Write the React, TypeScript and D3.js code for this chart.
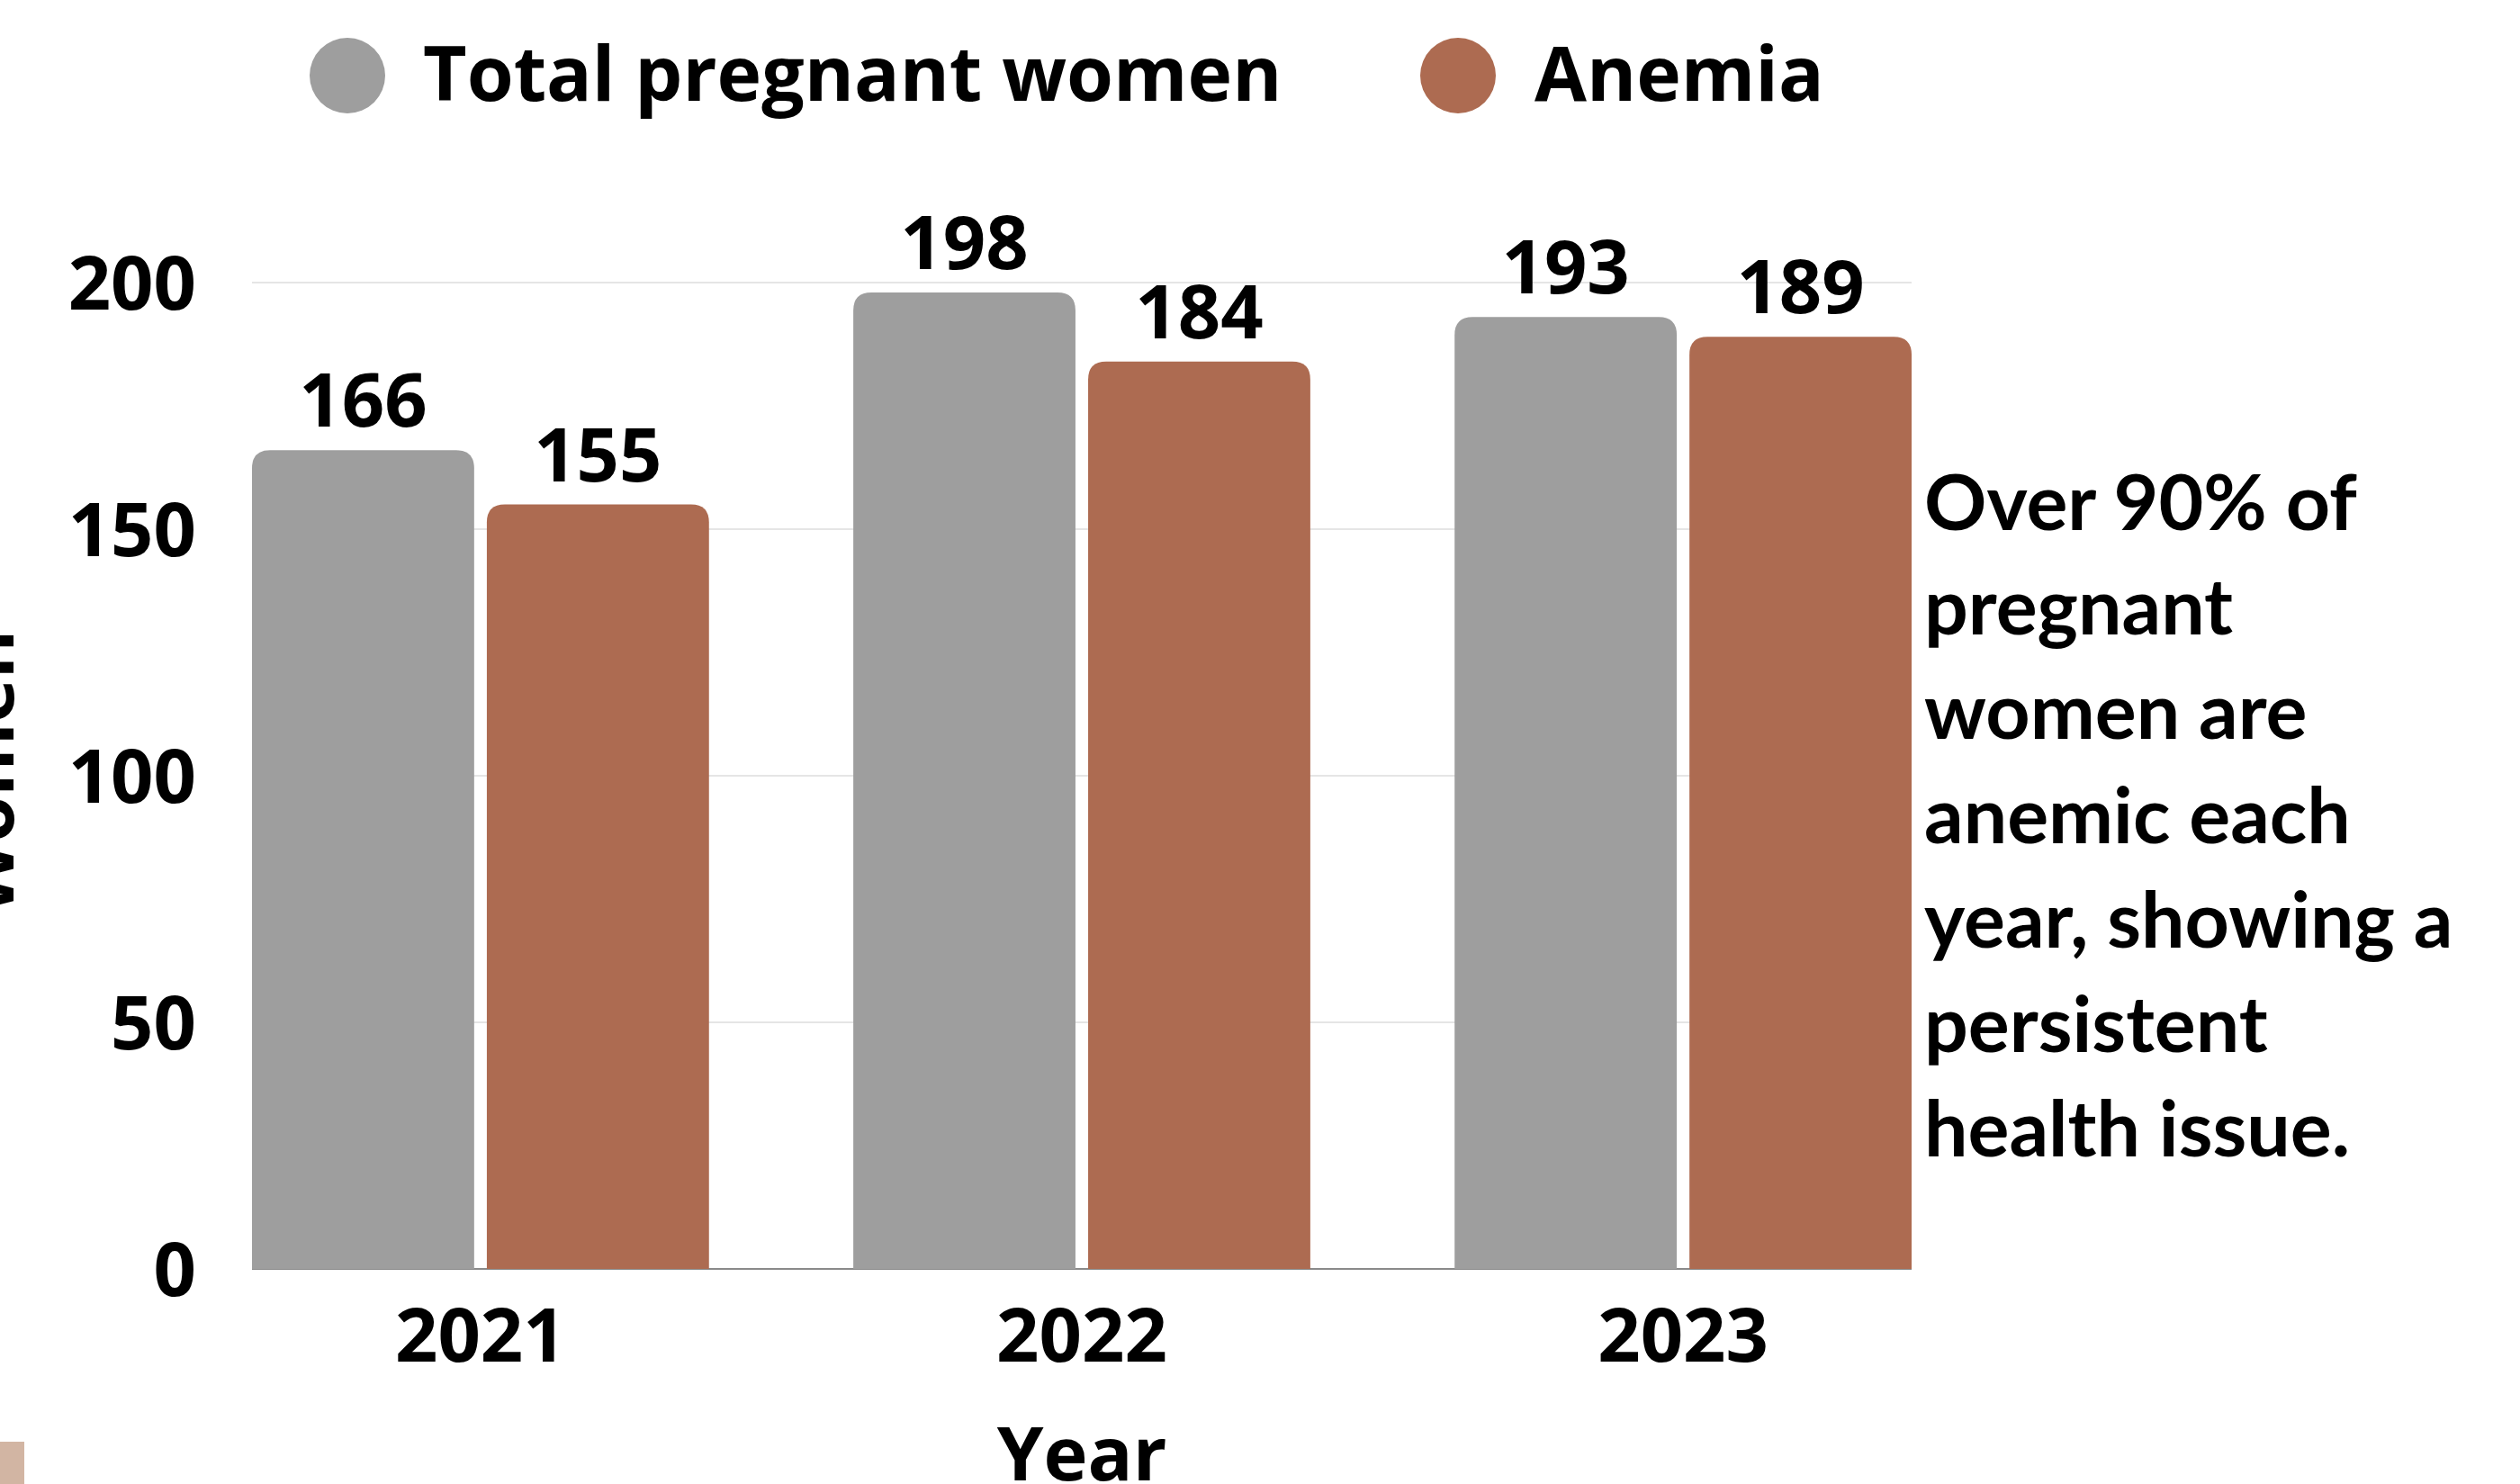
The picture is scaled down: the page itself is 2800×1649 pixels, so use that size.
import React from 'react';
import * as d3 from 'd3';

// data
const years = ['2021', '2022', '2023'];
const totalPregnant = [166, 198, 193];
const anemia = [155, 184, 189];
const seriesKeys = ['total', 'anemia'];
const seriesNames = ['Total pregnant women', 'Anemia'];
const yTicks = [0, 50, 100, 150, 200];
const noteLines = [
  'Over 90% of',
  'pregnant',
  'women are',
  'anemic each',
  'year, showing a',
  'persistent',
  'health issue.',
];

const W = 2800;
const H = 1649;
const colors = ['#9e9e9e', '#ad6b51'];
const font = "'Open Sans', 'Noto Sans', sans-serif";

// bar with rounded top corners only
function topRounded(x: number, y: number, w: number, h: number, r: number) {
  const rr = Math.min(r, w / 2, h);
  return `M${x},${y + h}V${y + rr}Q${x},${y} ${x + rr},${y}H${x + w - rr}Q${x + w},${y} ${x + w},${y + rr}V${y + h}Z`;
}

export default function App() {
  const margin = { left: 280, right: W - 2124, top: 314, bottom: H - 1410 };

  const x0 = d3.scaleBand<string>()
    .domain(years)
    .range([margin.left, W - margin.right])
    .paddingInner(0.24)
    .paddingOuter(0);

  const x1 = d3.scaleBand<string>()
    .domain(seriesKeys)
    .range([0, x0.bandwidth()])
    .paddingInner(0.054);

  const y = d3.scaleLinear().domain([0, 200]).range([H - margin.bottom, margin.top]);

  const values = [totalPregnant, anemia];
  const xl = margin.left;
  const xr = W - margin.right;

  return (
    <div style={{ position: 'absolute', left: 0, top: 0 }}>
      <svg width={W} height={H} style={{ display: 'block', background: '#fff' }}>
        {/* legend */}
        <g fontFamily={font} fontWeight={700} fontSize={84}>
          <circle cx={386} cy={84} r={42} fill={colors[0]} />
          <text x={470} y={112} fill="#000">{seriesNames[0]}</text>
          <circle cx={1620} cy={84} r={42} fill={colors[1]} />
          <text x={1705} y={112} fill="#000">{seriesNames[1]}</text>
        </g>

        {/* grid */}
        {yTicks.filter(t => t > 0).map(t => (
          <line key={t} x1={xl} x2={xr} y1={y(t)} y2={y(t)} stroke="#dcdcdc" strokeWidth={1.5} />
        ))}
        <line x1={xl} x2={xr} y1={y(0)} y2={y(0)} stroke="#8a8a8a" strokeWidth={2} />

        {/* y tick labels */}
        <g fontFamily={font} fontWeight={700} fontSize={83} textAnchor="end">
          {yTicks.map(t => (
            <text key={t} x={218} y={y(t) + 30} fill="#000">{t}</text>
          ))}
        </g>

        {/* y axis title, mostly outside the picture */}
        <text
          transform={`translate(15,858) rotate(-90)`}
          textAnchor="middle"
          fontFamily={font}
          fontWeight={700}
          fontSize={83}
          fill="#000"
        >Women</text>

        {/* bars */}
        {years.map((yr, i) => (
          <g key={yr} transform={`translate(${x0(yr)},0)`}>
            {seriesKeys.map((k, s) => {
              const v = values[s][i];
              const bx = x1(k) as number;
              const bw = x1.bandwidth();
              return (
                <g key={k}>
                  <path d={topRounded(bx, y(v), bw, y(0) - y(v), 20)} fill={colors[s]} />
                  <text
                    x={bx + bw / 2}
                    y={y(v) - 26}
                    textAnchor="middle"
                    fontFamily={font}
                    fontWeight={700}
                    fontSize={83}
                    fill="#000"
                  >{v}</text>
                </g>
              );
            })}
          </g>
        ))}

        {/* x tick labels */}
        <g fontFamily={font} fontWeight={700} fontSize={83} textAnchor="middle">
          {years.map(yr => (
            <text key={yr} x={(x0(yr) as number) + x0.bandwidth() / 2} y={1513} fill="#000">{yr}</text>
          ))}
        </g>
        <text x={(xl + xr) / 2} y={1645} textAnchor="middle" fontFamily={font} fontWeight={700} fontSize={83} fill="#000">Year</text>

        {/* note */}
        <g fontFamily="Lato, 'Open Sans', sans-serif" fontWeight={700} fontSize={86} fill="#000">
          {noteLines.map((line, i) => (
            <text key={i} x={2138} y={589 + i * 116}>{line}</text>
          ))}
        </g>

        {/* small swatch in the corner */}
        <rect x={0} y={1602} width={27} height={H - 1602} fill="#d2b5a3" />
      </svg>
    </div>
  );
}
